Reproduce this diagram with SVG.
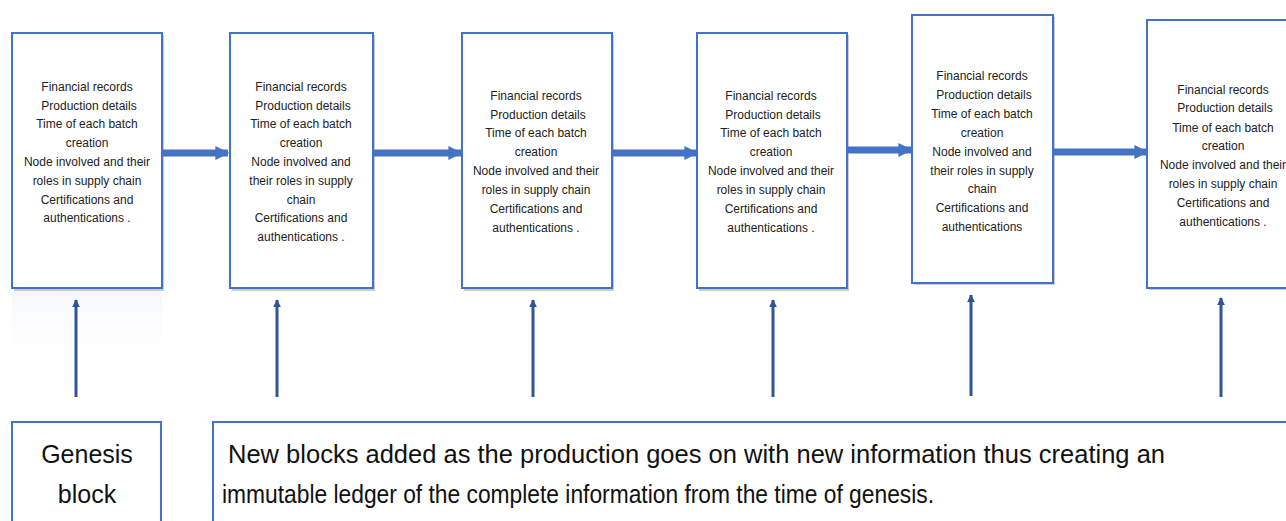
<svg xmlns="http://www.w3.org/2000/svg" width="1286" height="521" viewBox="0 0 1286 521">
<defs>
<style>
.box{fill:#fff;stroke:#4472c4;stroke-width:2}
.sh{fill:#9aa3b0;opacity:.55}
.t{font-family:"Liberation Sans",Arial,sans-serif;font-size:12px;fill:#222;text-anchor:middle}
.big{font-family:"Liberation Sans",Arial,sans-serif;font-size:25px;fill:#111}
.h{stroke:#4472c4;stroke-width:7;fill:none}
.v{stroke:#2f5597;stroke-width:3;fill:none}
</style>
<marker id="ah" viewBox="0 0 10 10" refX="9" refY="5" markerWidth="2" markerHeight="2.2" orient="auto" markerUnits="strokeWidth">
<path d="M0,0 L10,5 L0,10 z" fill="#4472c4"/>
</marker>
<marker id="av" viewBox="0 0 10 10" refX="9" refY="5" markerWidth="2.6" markerHeight="2.6" orient="auto" markerUnits="strokeWidth">
<path d="M0,0 L10,5 L0,10 z" fill="#2f5597"/>
</marker>
<linearGradient id="fade" x1="0" y1="0" x2="0" y2="1">
<stop offset="0" stop-color="#c9d3e6" stop-opacity=".6"/>
<stop offset="1" stop-color="#ffffff" stop-opacity="0"/>
</linearGradient>
</defs>
<rect width="1286" height="521" fill="#fff"/>
<!-- faint reflection under first block -->
<rect x="12" y="291" width="150" height="80" fill="url(#fade)" opacity=".3"/>

<g id="block1">
<rect class="sh" x="14" y="35" width="150" height="256"/>
<rect class="box" x="12" y="33" width="150" height="255"/>
<text class="t"><tspan x="87" y="91">Financial records</tspan><tspan x="89" y="109.5">Production details</tspan><tspan x="87" y="128">Time of each batch</tspan><tspan x="87" y="147">creation</tspan><tspan x="87" y="166">Node involved and their</tspan><tspan x="87" y="185">roles in supply chain</tspan><tspan x="87" y="203.5">Certifications and</tspan><tspan x="87" y="222">authentications .</tspan></text>
</g>
<g id="block2">
<rect class="sh" x="232" y="35" width="143" height="256"/>
<rect class="box" x="230" y="33" width="143" height="255"/>
<text class="t"><tspan x="301" y="91">Financial records</tspan><tspan x="303" y="109.5">Production details</tspan><tspan x="301" y="128">Time of each batch</tspan><tspan x="301" y="147">creation</tspan><tspan x="301" y="166">Node involved and</tspan><tspan x="301" y="185">their roles in supply</tspan><tspan x="301" y="203.5">chain</tspan><tspan x="301" y="222">Certifications and</tspan><tspan x="301" y="241">authentications .</tspan></text>
</g>
<g id="block3">
<rect class="sh" x="464" y="35" width="150" height="256"/>
<rect class="box" x="462" y="33" width="150" height="255"/>
<text class="t"><tspan x="536" y="100">Financial records</tspan><tspan x="538" y="118.5">Production details</tspan><tspan x="536" y="137">Time of each batch</tspan><tspan x="536" y="155.5">creation</tspan><tspan x="536" y="174.5">Node involved and their</tspan><tspan x="536" y="193.5">roles in supply chain</tspan><tspan x="536" y="212.5">Certifications and</tspan><tspan x="536" y="231.5">authentications .</tspan></text>
</g>
<g id="block4">
<rect class="sh" x="699" y="35" width="150" height="256"/>
<rect class="box" x="697" y="33" width="150" height="255"/>
<text class="t"><tspan x="771" y="100">Financial records</tspan><tspan x="773" y="118.5">Production details</tspan><tspan x="771" y="137">Time of each batch</tspan><tspan x="771" y="155.5">creation</tspan><tspan x="771" y="174.5">Node involved and their</tspan><tspan x="771" y="193.5">roles in supply chain</tspan><tspan x="771" y="212.5">Certifications and</tspan><tspan x="771" y="231.5">authentications .</tspan></text>
</g>
<g id="block5">
<rect class="sh" x="914" y="17" width="141" height="268"/>
<rect class="box" x="912" y="15" width="141" height="268"/>
<text class="t"><tspan x="982" y="80">Financial records</tspan><tspan x="984" y="99">Production details</tspan><tspan x="982" y="118">Time of each batch</tspan><tspan x="982" y="137">creation</tspan><tspan x="982" y="156">Node involved and</tspan><tspan x="982" y="175">their roles in supply</tspan><tspan x="982" y="192.5">chain</tspan><tspan x="982" y="211.5">Certifications and</tspan><tspan x="982" y="230.5">authentications</tspan></text>
</g>
<g id="block6">
<rect class="sh" x="1149" y="22" width="150" height="268"/>
<rect class="box" x="1147" y="20" width="150" height="268"/>
<text class="t"><tspan x="1223" y="94">Financial records</tspan><tspan x="1225" y="112">Production details</tspan><tspan x="1223" y="131.5">Time of each batch</tspan><tspan x="1223" y="150">creation</tspan><tspan x="1223" y="169">Node involved and their</tspan><tspan x="1223" y="187.5">roles in supply chain</tspan><tspan x="1223" y="207">Certifications and</tspan><tspan x="1223" y="226">authentications .</tspan></text>
</g>
<g id="genesis">
<rect class="box" x="12" y="422" width="149" height="110"/>
<text class="big" text-anchor="middle" font-size="26"><tspan x="87" y="463">Genesis</tspan><tspan x="87" y="503">block</tspan></text>
</g>
<g id="note">
<rect class="box" x="213" y="422" width="1090" height="110"/>
<text class="big"><tspan x="228" y="463" textLength="937" lengthAdjust="spacingAndGlyphs">New blocks added as the production goes on with new information thus creating an</tspan><tspan x="222" y="503" textLength="712" lengthAdjust="spacingAndGlyphs">immutable ledger of the complete information from the time of genesis.</tspan></text>
</g>

<g id="connectors">
<path class="h" d="M162,153 H228" marker-end="url(#ah)"/>
<path class="h" d="M373,153 H461" marker-end="url(#ah)"/>
<path class="h" d="M612,153 H697" marker-end="url(#ah)"/>
<path class="h" d="M847,150 H911" marker-end="url(#ah)"/>
<path class="h" d="M1053,152 H1147" marker-end="url(#ah)"/>
<path class="v" d="M76,397 V300" marker-end="url(#av)"/>
<path class="v" d="M277,397 V300" marker-end="url(#av)"/>
<path class="v" d="M533,397 V300" marker-end="url(#av)"/>
<path class="v" d="M773,397 V300" marker-end="url(#av)"/>
<path class="v" d="M971,396 V295" marker-end="url(#av)"/>
<path class="v" d="M1221,397 V298" marker-end="url(#av)"/>
</g>
</svg>
